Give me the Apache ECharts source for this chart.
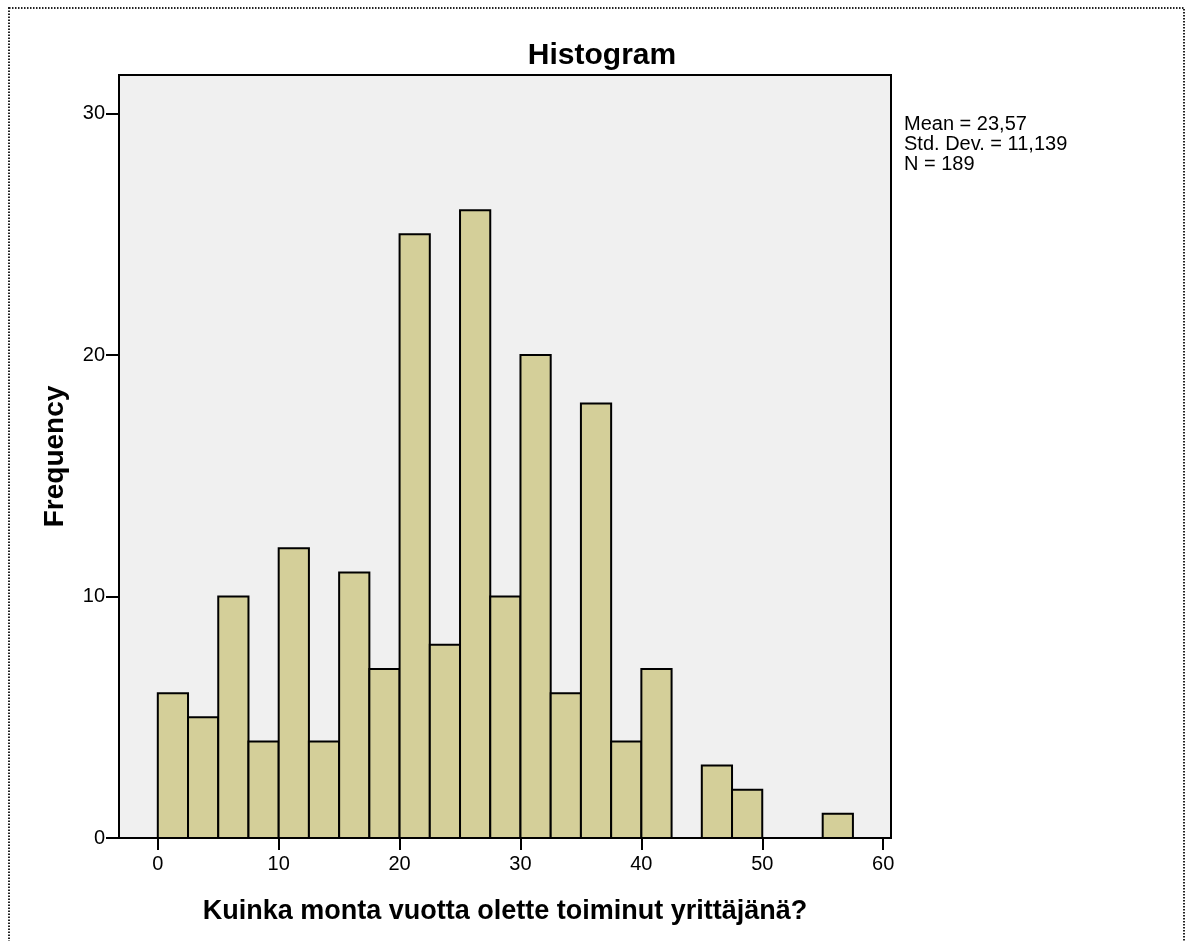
<!DOCTYPE html>
<html>
<head>
<meta charset="utf-8">
<script src="https://cdn.jsdelivr.net/npm/echarts@6/dist/echarts.min.js"></script>
<style>
  html, body { margin: 0; padding: 0; background: #fff; }
  #main { width: 1189px; height: 941px; }
</style>
</head>
<body>
<div id="main"></div>
<script type="text/javascript">
// bin start values (years), width 2.5
var binStarts = [0, 2.5, 5, 7.5, 10, 12.5, 15, 17.5, 20, 22.5, 25, 27.5, 30, 32.5, 35, 37.5, 40, 42.5, 45, 47.5, 50, 52.5, 55];
var binCounts = [6, 5, 10, 4, 12, 4, 11, 7, 25, 8, 26, 10, 20, 6, 18, 4, 7, 0, 3, 2, 0, 0, 1];
var binWidth = 2.5;
var xTicks = [0, 10, 20, 30, 40, 50, 60];
var yTicks = [0, 10, 20, 30];
var statsLines = ['Mean = 23,57', 'Std. Dev. = 11,139', 'N = 189'];

var data = [];
for (var i = 0; i < binStarts.length; i++) {
  if (binCounts[i] > 0) data.push([binStarts[i], binStarts[i] + binWidth, binCounts[i]]);
}

var myChart = echarts.init(document.getElementById('main'));
var font = '"Liberation Sans", Arial, sans-serif';

var option = {
  animation: false,
  textStyle: { fontFamily: font },
  title: {
    text: 'Histogram',
    left: 597, top: 36, textAlign: 'center',
    textStyle: { fontSize: 30, fontWeight: 'bold', color: '#000', fontFamily: font }
  },
  grid: {
    left: 119, top: 75, right: 298, bottom: 103,
    show: true, backgroundColor: '#f0f0f0', borderColor: '#000', borderWidth: 2
  },
  xAxis: {
    type: 'value', min: -3.21, max: 60.65,
    name: 'Kuinka monta vuotta olette toiminut yrittäjänä?',
    nameLocation: 'middle', nameGap: 60,
    nameTextStyle: { fontSize: 27, fontWeight: 'bold', color: '#000', fontFamily: font },
    splitLine: { show: false },
    axisLine: { show: true, onZero: false, lineStyle: { color: '#000', width: 2 } },
    axisTick: { show: true, length: 12, customValues: xTicks, lineStyle: { color: '#000', width: 2 } },
    axisLabel: { customValues: xTicks, fontSize: 20, color: '#000', margin: 16, fontFamily: font }
  },
  yAxis: {
    type: 'value', min: 0, max: 31.6,
    name: 'Frequency',
    nameLocation: 'middle', nameGap: 50,
    nameTextStyle: { fontSize: 28, fontWeight: 'bold', color: '#000', fontFamily: font },
    splitLine: { show: false },
    axisLine: { show: true, onZero: false, lineStyle: { color: '#000', width: 2 } },
    axisTick: { show: true, length: 13, customValues: yTicks, lineStyle: { color: '#000', width: 2 } },
    axisLabel: { customValues: yTicks, fontSize: 20, color: '#000', margin: 14, fontFamily: font }
  },
  graphic: [
    {
      type: 'rect', silent: true, z: -1,
      shape: { x: 9, y: 8, width: 1175, height: 960 },
      style: { fill: null, stroke: '#222', lineWidth: 2, lineDash: [1.5, 1.5] }
    },
    {
      type: 'text', left: 904, top: 114,
      style: { text: statsLines.join('\n'), font: '20px ' + font, fill: '#000', lineHeight: 20 }
    }
  ],
  series: [{
    type: 'custom',
    data: data,
    encode: { x: [0, 1], y: 2 },
    renderItem: function (params, api) {
      var p0 = api.coord([api.value(0), api.value(2)]);
      var p1 = api.coord([api.value(1), 0]);
      return {
        type: 'rect',
        shape: { x: p0[0], y: p0[1], width: p1[0] - p0[0], height: p1[1] - p0[1] },
        style: { fill: '#d4cf99', stroke: '#000', lineWidth: 2 }
      };
    }
  }]
};
myChart.setOption(option);
</script>
</body>
</html>
